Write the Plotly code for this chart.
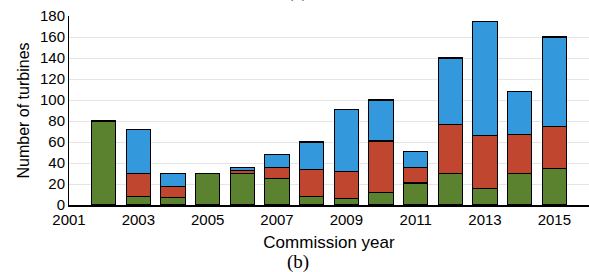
import plotly.graph_objects as go

years = list(range(2002, 2016))
green = [80, 8, 7, 30, 30, 25, 8, 6, 12, 21, 30, 16, 30, 35]
red = [0, 22, 11, 0, 3, 11, 26, 26, 49, 15, 47, 50, 37, 40]
blue = [0, 42, 12, 0, 3, 12, 26, 59, 39, 15, 63, 109, 41, 85]

x_ticks = [2001, 2003, 2005, 2007, 2009, 2011, 2013, 2015]
y_ticks = list(range(0, 181, 20))

colors = {"green": "#5b822f", "red": "#c0462f", "blue": "#3398dc"}

fig = go.Figure()
for name, vals in [("green", green), ("red", red), ("blue", blue)]:
    xs = [y for y, v in zip(years, vals) if v > 0]
    vs = [v for v in vals if v > 0]
    fig.add_trace(go.Bar(x=xs, y=vs, name=name, width=0.7,
                         marker=dict(color=colors[name], line=dict(color="black", width=1.2)),
                         showlegend=False))

serif = "Liberation Serif, DejaVu Serif, serif"
fig.update_layout(
    barmode="stack",
    width=589, height=272,
    margin=dict(l=69, r=0, t=16, b=67),
    plot_bgcolor="white", paper_bgcolor="white",
    font=dict(family="Liberation Sans, Arial, sans-serif", size=15, color="black"),
    xaxis=dict(range=[2001, 2016], tickvals=x_ticks, showgrid=False,
               showline=True, linecolor="black", linewidth=1.5, ticks="",
               title=dict(text="Commission year", font=dict(size=17), standoff=9),
               tickfont=dict(size=15)),
    yaxis=dict(range=[0, 180], tickvals=y_ticks, showgrid=True, gridcolor="#e5e5e5",
               gridwidth=1, showline=True, linecolor="black", linewidth=1, ticks="",
               zeroline=False,
               title=dict(text="Number of turbines", font=dict(size=16), standoff=6),
               tickfont=dict(size=15)),
    annotations=[
        dict(text="(b)", x=0.44, xref="paper", y=0, yref="paper", yanchor="middle",
             showarrow=False, yshift=-57, font=dict(family=serif, size=19)),
        dict(text="(a)", x=0.44, xref="paper", y=1, yref="paper", yanchor="middle",
             showarrow=False, yshift=25, font=dict(family=serif, size=19)),
    ],
)

fig.write_html("out.html", config={"displayModeBar": False},
               post_script="document.body.style.margin='0';document.body.style.overflow='hidden';")
